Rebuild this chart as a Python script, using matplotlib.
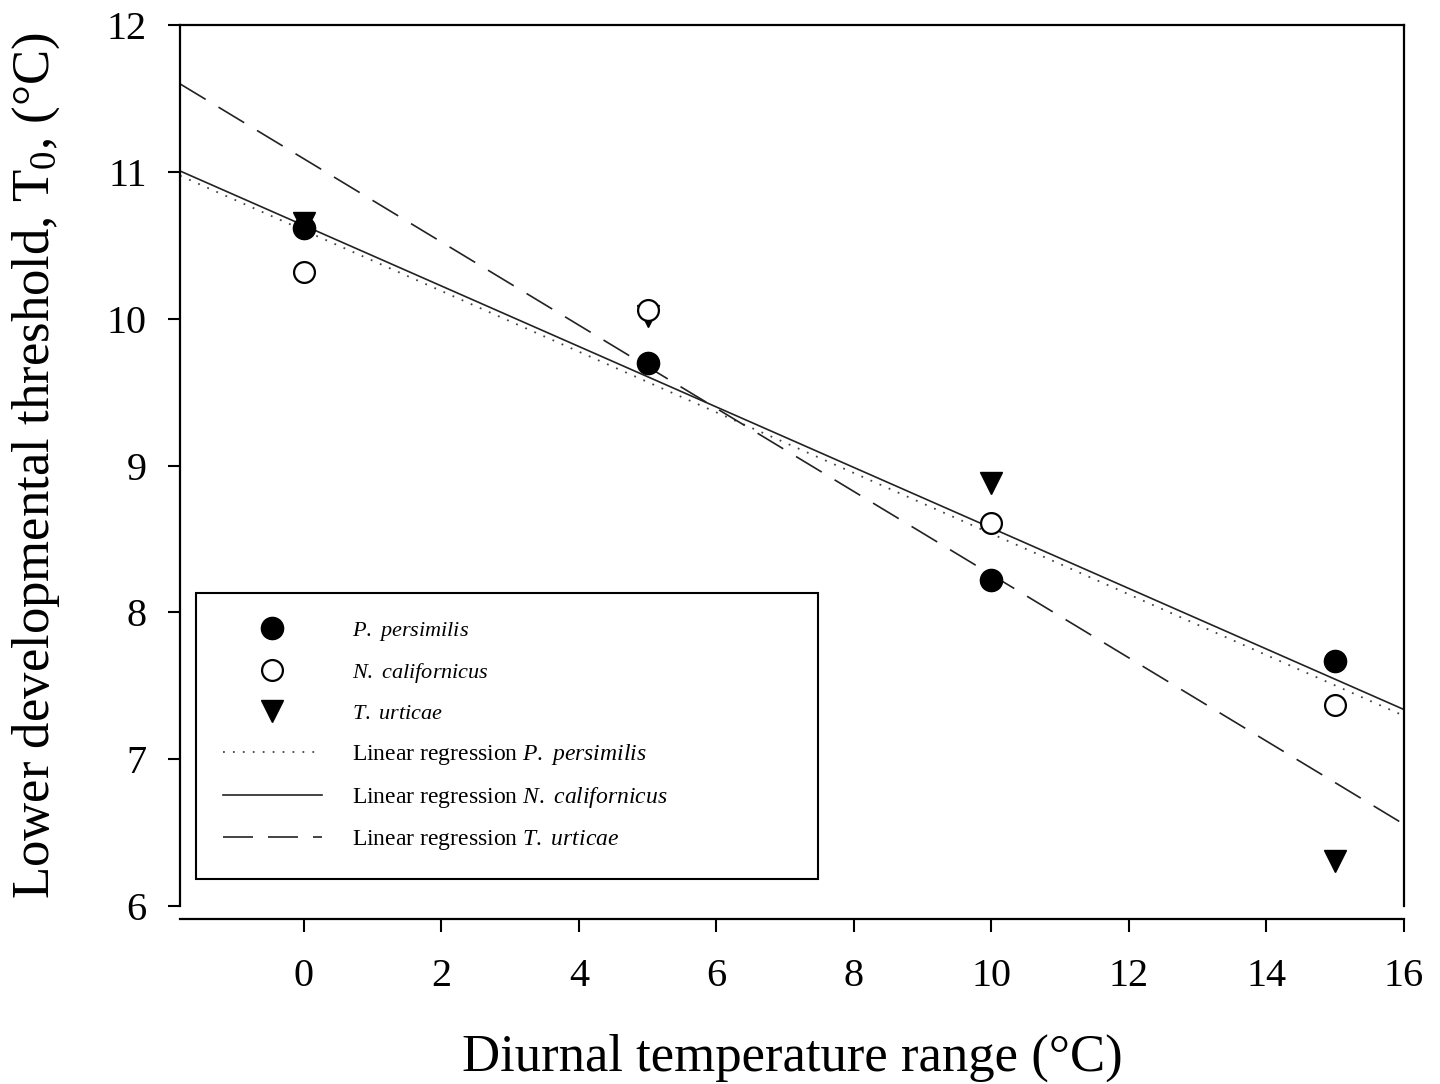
import numpy as np
import matplotlib
matplotlib.use('Agg')
import matplotlib.pyplot as plt
from matplotlib.lines import Line2D

plt.rcParams['font.family'] = ['Liberation Serif', 'DejaVu Serif']
plt.rcParams['mathtext.fontset'] = 'custom'
plt.rcParams['mathtext.rm'] = 'Liberation Serif'
plt.rcParams['mathtext.it'] = 'Liberation Serif:italic'

# --- Datos ---
dtr = np.array([0, 5, 10, 15])                      # rango térmico diurno (°C)
t0_persimilis = np.array([10.62, 9.70, 8.22, 7.67])
t0_californicus = np.array([10.32, 10.06, 8.61, 7.37])
t0_urticae = np.array([10.65, 10.02, 8.88, 6.31])

species = [('P.', 'persimilis'), ('N.', 'californicus'), ('T.', 'urticae')]
x_lim = (-1.8, 16)

fig = plt.figure(figsize=(14.4, 10.84), dpi=100)
ax = fig.add_axes([0.125, 0.164, 0.85, 0.813])

# rectas de regresión a lo largo de todo el eje
xx = np.linspace(x_lim[0], x_lim[1], 200)
line_styles = [dict(color='#444444', lw=1.3, ls=(0, (1, 4.5))),
               dict(color='#222222', lw=1.2, ls='-'),
               dict(color='#222222', lw=1.2, ls=(0, (18, 9)))]
for yv, st in zip([t0_persimilis, t0_californicus, t0_urticae], line_styles):
    b, a = np.polyfit(dtr, yv, 1)
    ax.plot(xx, a + b * xx, zorder=2, **st)

ax.plot(dtr, t0_urticae, 'v', color='black', ms=16, zorder=3)
ax.plot(dtr, t0_californicus, 'o', mfc='white', mec='black', mew=1.6, ms=15, zorder=4)
ax.plot(dtr, t0_persimilis, 'o', color='black', ms=16, zorder=5)

ax.set_xlim(*x_lim)
ax.set_ylim(6, 12)
ax.set_xticks(np.arange(0, 17, 2))
ax.set_yticks(np.arange(6, 13, 1))

for s in ax.spines.values():
    s.set_linewidth(1.6)
ax.spines['bottom'].set_position(('outward', 9))
ax.tick_params(axis='both', which='major', direction='out', length=9,
               width=1.5, labelsize=29, pad=15)
ax.tick_params(axis='x', pad=19)
ax.tick_params(top=False, right=False)

ax.set_xlabel('Diurnal temperature range (°C)', fontsize=38, labelpad=28)
ax.set_ylabel('Lower developmental threshold, T$_0$, (°C)', fontsize=38,
              labelpad=32)

# --- Leyenda ---
handles = [
    Line2D([], [], ls='none', marker='o', color='black', ms=16),
    Line2D([], [], ls='none', marker='o', mfc='white', mec='black', mew=1.6, ms=15),
    Line2D([], [], ls='none', marker='v', color='black', ms=16),
    Line2D([], [], **line_styles[0]),
    Line2D([], [], **line_styles[1]),
    Line2D([], [], **line_styles[2]),
]
labels = [r'$\mathit{%s}$ $\mathit{%s}$' % s for s in species] + \
         [r'Linear regression $\mathit{%s}$ $\mathit{%s}$' % s for s in species]

leg = ax.legend(handles, labels, loc='lower left',
                bbox_to_anchor=(0.013, 0.031, 0.508, 0.32), mode='expand',
                fontsize=17, frameon=True, fancybox=False, framealpha=1,
                edgecolor='black', borderpad=1.13, labelspacing=0.76,
                handlelength=4.2, handletextpad=1.3, borderaxespad=0)
leg.get_frame().set_linewidth(1.5)
for t in leg.get_texts()[:3]:
    t.set_fontsize(16)

fig.savefig('out.png', dpi=100)
